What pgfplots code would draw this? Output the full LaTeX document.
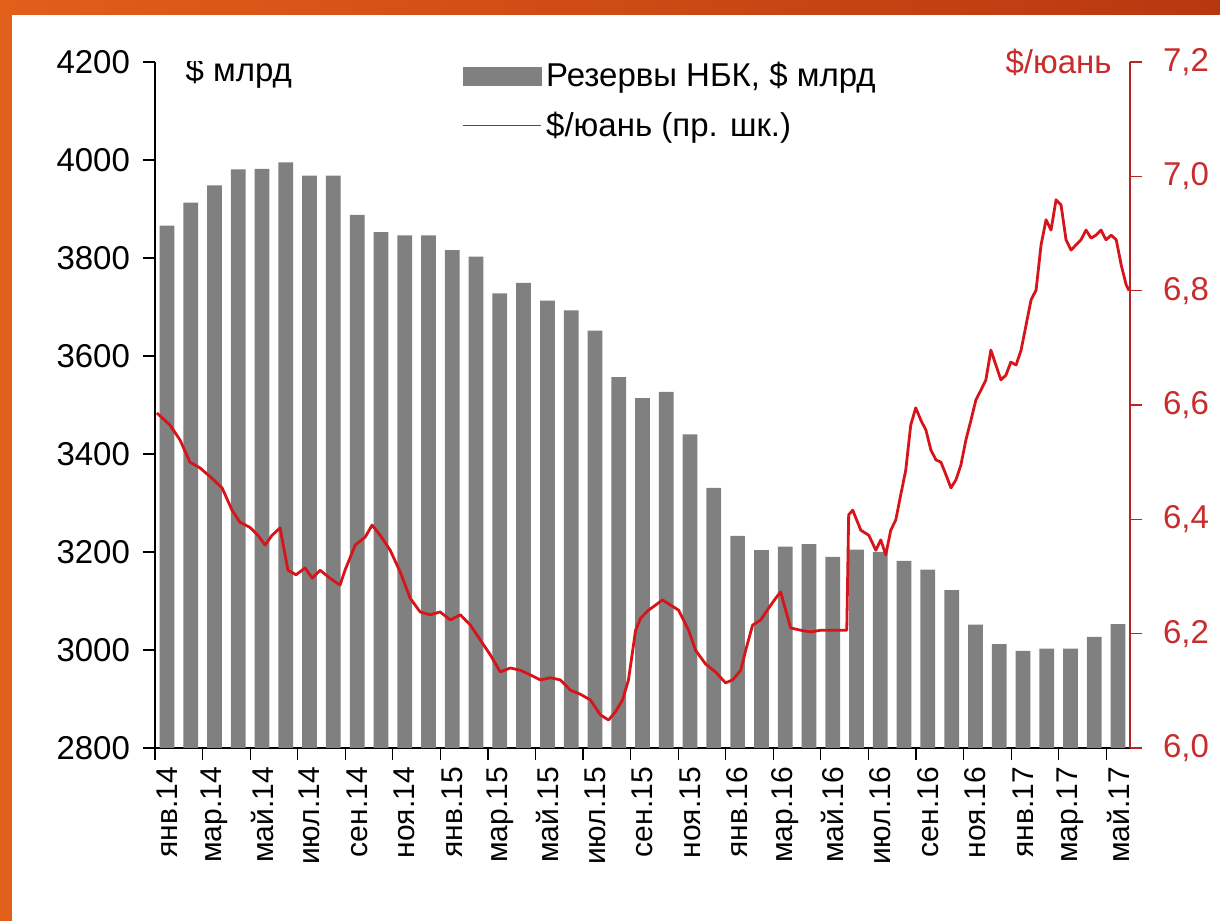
\documentclass[border=0pt]{standalone}
\usepackage{fontspec}
\setmainfont{Liberation Sans}
\usepackage{pgfplots}
\pgfplotsset{compat=1.18}
\definecolor{barcol}{RGB}{128,128,128}
\definecolor{linecol}{RGB}{215,20,25}
\definecolor{axred}{RGB}{185,35,35}
\definecolor{lblred}{RGB}{200,45,45}
\definecolor{orA}{RGB}{225,95,25}
\definecolor{orB}{RGB}{185,55,15}

\pgfplotstableread{
x y
0 3866
1 3913
2 3948
3 3981
4 3982
5 3995
6 3968
7 3968
8 3888
9 3853
10 3846
11 3846
12 3816
13 3803
14 3728
15 3749
16 3713
17 3693
18 3652
19 3557
20 3514
21 3527
22 3440
23 3331
24 3233
25 3204
26 3211
27 3216
28 3190
29 3205
30 3200
31 3182
32 3164
33 3122
34 3052
35 3012
36 2998
37 3003
38 3003
39 3027
40 3053
}\reserves

\pgfplotstableread{
x y
-0.42 6.586
0.13 6.565
0.55 6.539
0.97 6.500
1.39 6.490
1.89 6.472
2.32 6.455
2.74 6.416
3.07 6.395
3.49 6.386
3.83 6.372
4.13 6.355
4.42 6.372
4.76 6.385
5.09 6.311
5.43 6.303
5.81 6.315
6.11 6.297
6.44 6.311
6.86 6.297
7.28 6.285
7.49 6.311
7.92 6.355
8.34 6.369
8.63 6.390
8.97 6.372
9.39 6.346
9.81 6.308
10.23 6.262
10.65 6.238
11.07 6.233
11.49 6.238
11.92 6.224
12.34 6.233
12.76 6.215
13.18 6.189
13.60 6.163
14.02 6.133
14.44 6.140
14.86 6.136
15.28 6.128
15.71 6.119
16.13 6.123
16.55 6.119
16.97 6.101
17.39 6.094
17.81 6.084
18.23 6.058
18.57 6.049
18.86 6.063
19.16 6.084
19.41 6.119
19.71 6.206
19.92 6.227
20.25 6.241
20.55 6.250
20.84 6.259
21.18 6.250
21.52 6.241
21.94 6.206
22.23 6.171
22.65 6.147
23.07 6.133
23.49 6.114
23.79 6.119
24.13 6.136
24.34 6.171
24.63 6.215
24.97 6.224
25.31 6.245
25.60 6.262
25.81 6.273
26.02 6.241
26.23 6.210
26.65 6.206
27.07 6.203
27.49 6.206
27.92 6.206
28.59 6.206
28.67 6.408
28.84 6.416
29.18 6.381
29.52 6.372
29.81 6.346
30.02 6.364
30.23 6.338
30.44 6.381
30.65 6.399
30.86 6.443
31.07 6.486
31.28 6.565
31.49 6.595
31.71 6.573
31.92 6.556
32.13 6.521
32.34 6.504
32.55 6.500
32.76 6.478
32.97 6.455
33.18 6.469
33.39 6.495
33.60 6.539
33.81 6.573
34.02 6.609
34.23 6.626
34.44 6.644
34.65 6.696
34.86 6.670
35.07 6.644
35.28 6.652
35.49 6.675
35.71 6.670
35.92 6.696
36.13 6.740
36.34 6.784
36.55 6.801
36.76 6.880
36.97 6.924
37.18 6.906
37.39 6.959
37.60 6.950
37.81 6.889
38.02 6.871
38.23 6.880
38.44 6.889
38.65 6.906
38.86 6.892
39.07 6.897
39.28 6.906
39.49 6.889
39.71 6.897
39.92 6.889
40.13 6.845
40.34 6.810
40.46 6.800
}\cny

\begin{document}
\begin{tikzpicture}
\useasboundingbox (0,0) rectangle (610pt,460.5pt);
\fill[white] (0,0) rectangle (610pt,460.5pt);
\fill[orA] (0,0) rectangle (6pt,460.5pt);
\shade[left color=orA, right color=orB] (0,453pt) rectangle (610pt,460.5pt);

\begin{axis}[
  at={(77.5pt,86.5pt)}, anchor=south west,
  width=487.5pt, height=343pt, scale only axis,
  xmin=-0.5, xmax=40.5, ymin=2800, ymax=4200,
  axis x line*=bottom, axis y line*=left,
  axis line style={black, line width=0.8pt},
  tick align=outside,
  ytick={2800,3000,...,4200},
  xtick={0,2,...,40},
  xticklabels={янв.14,мар.14,май.14,июл.14,сен.14,ноя.14,янв.15,мар.15,май.15,июл.15,сен.15,ноя.15,янв.16,мар.16,май.16,июл.16,сен.16,ноя.16,янв.17,мар.17,май.17},
  minor xtick={-0.5,1.5,...,39.5},
  major x tick style={draw=none},
  minor x tick style={black, line width=0.6pt},
  ytick style={black, line width=0.8pt},
  major tick length=6pt, minor tick length=6pt,
  xticklabel style={rotate=90, anchor=east, font=\fontsize{15}{17}\selectfont},
  yticklabel style={font=\fontsize{16.5}{18}\selectfont, xshift=-3pt},
  /pgf/number format/assume math mode=true,
  /pgf/number format/1000 sep={},
  clip=true,
]
\addplot[ybar, bar width=0.62, bar shift=0pt, fill=barcol, draw=none] table[x=x,y=y] {\reserves};
\node[anchor=west, inner sep=0pt, font=\fontsize{16.5}{18}\selectfont] at (rel axis cs:0.031,0.985) {\$ млрд};
\end{axis}

\begin{axis}[
  at={(77.5pt,86.5pt)}, anchor=south west,
  width=487.5pt, height=343pt, scale only axis,
  xmin=-0.5, xmax=40.5, ymin=6, ymax=7.2,
  axis x line=none, axis y line*=right,
  y axis line style={axred, line width=0.8pt},
  tick align=outside,
  ytick={6,6.2,6.4,6.6,6.8,7,7.2},
  ytick style={axred, line width=0.8pt},
  major tick length=6pt,
  yticklabel style={lblred, font=\fontsize{16.5}{18}\selectfont, xshift=7pt,
    /pgf/number format/.cd, fixed, fixed zerofill, precision=1, use comma},
  /pgf/number format/assume math mode=true,
  legend style={draw=none, fill=none, inner sep=0pt, at={(0.3149,1.006)}, anchor=north west,
    font=\fontsize{16.5}{18}\selectfont, row sep=7pt},
  legend cell align=left,
  clip=false,
]
\addlegendimage{legend image code/.code={\fill[barcol] (0pt,-4.5pt) rectangle (39pt,4.5pt);}}
\addlegendentry{Резервы НБК, \$ млрд}
\addplot[linecol, line width=1.4pt, line join=round,
  legend image code/.code={\draw[linecol, line width=0.9pt] (0pt,0pt) -- (39pt,0pt);}] table[x=x,y=y] {\cny};
\addlegendentry{\$/юань (пр. шк.)}
\node[anchor=east, inner sep=0pt, text=lblred, font=\fontsize{16.5}{18}\selectfont] at (rel axis cs:0.9815,1) {\$/юань};
\end{axis}
\end{tikzpicture}
\end{document}
